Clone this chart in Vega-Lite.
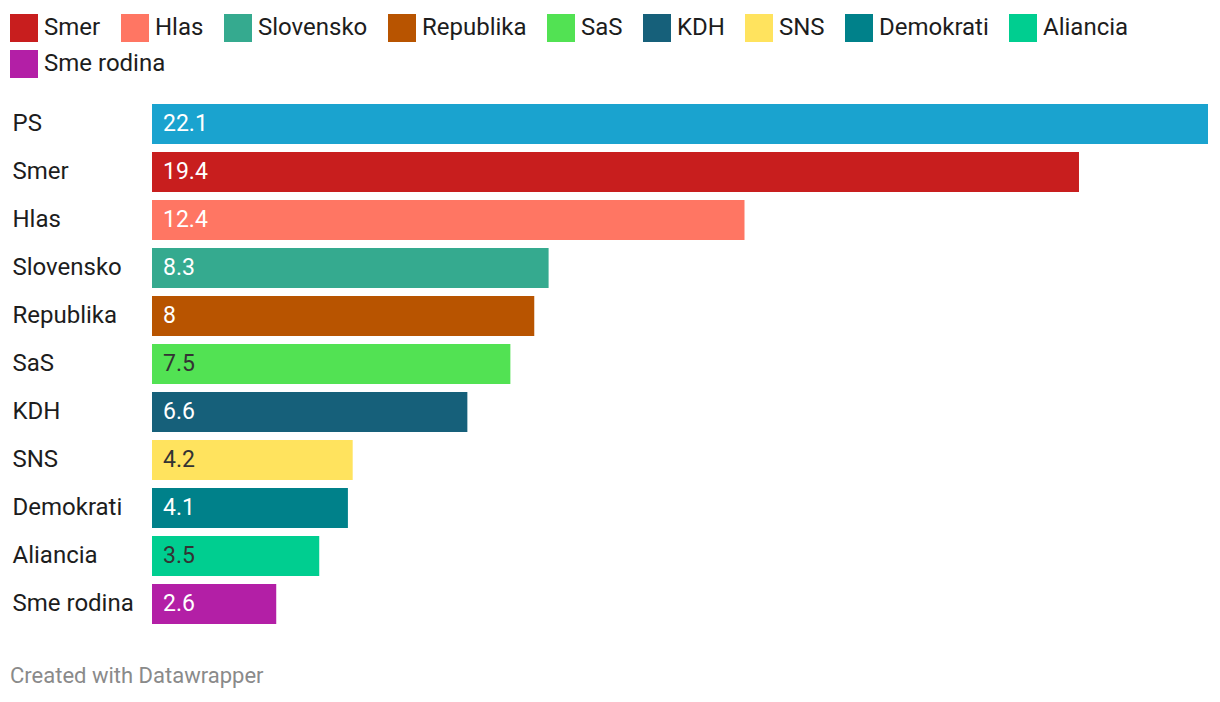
{
  "$schema": "https://vega.github.io/schema/vega-lite/v6.json",
  "width": 1056,
  "height": 520,
  "autosize": {"type": "none"},
  "padding": {"left": 152, "top": 104, "right": 12, "bottom": 78},
  "background": "#ffffff",
  "config": {
    "view": {"stroke": null},
    "font": "Roboto"
  },
  "title": {
    "text": "Created with Datawrapper",
    "orient": "bottom",
    "anchor": "start",
    "frame": "group",
    "font": "Roboto",
    "fontSize": 22,
    "fontWeight": "normal",
    "color": "#8a8a8a",
    "dx": -142,
    "offset": 42
  },
  "data": {
    "values": [
      {"party": "PS", "value": 22.1},
      {"party": "Smer", "value": 19.4},
      {"party": "Hlas", "value": 12.4},
      {"party": "Slovensko", "value": 8.3},
      {"party": "Republika", "value": 8},
      {"party": "SaS", "value": 7.5},
      {"party": "KDH", "value": 6.6},
      {"party": "SNS", "value": 4.2},
      {"party": "Demokrati", "value": 4.1},
      {"party": "Aliancia", "value": 3.5},
      {"party": "Sme rodina", "value": 2.6}
    ]
  },
  "encoding": {
    "y": {
      "field": "party",
      "type": "nominal",
      "sort": null,
      "scale": {"paddingInner": 0.16667, "paddingOuter": 0},
      "axis": {
        "title": null,
        "domain": false,
        "ticks": false,
        "tickSize": 0,
        "labelAlign": "left",
        "labelPadding": 140,
        "labelFontSize": 24,
        "labelFont": "Roboto",
        "labelColor": "#1d1d1d",
        "labelLimit": 200
      }
    }
  },
  "layer": [
    {
      "mark": {"type": "bar", "cornerRadius": 0},
      "encoding": {
        "x": {
          "field": "value",
          "type": "quantitative",
          "scale": {"domain": [0, 22.1], "nice": false, "zero": true},
          "axis": null
        },
        "fill": {
          "field": "party",
          "type": "nominal",
          "scale": {
            "domain": ["PS", "Smer", "Hlas", "Slovensko", "Republika", "SaS", "KDH", "SNS", "Demokrati", "Aliancia", "Sme rodina"],
            "range": ["#1aa3cf", "#c81e1e", "#ff7663", "#35aa8f", "#b85400", "#52e253", "#16607a", "#ffe35e", "#00818a", "#00ce90", "#b31fa6"]
          },
          "legend": {
            "title": null,
            "orient": "none",
            "direction": "horizontal",
            "legendX": -142,
            "legendY": -90,
            "padding": 0,
            "values": ["Smer", "Hlas", "Slovensko", "Republika", "SaS", "KDH", "SNS", "Demokrati", "Aliancia"],
            "symbolType": "square",
            "symbolSize": 784,
            "symbolStrokeWidth": 0,
            "symbolOpacity": 1,
            "labelFont": "Roboto",
            "labelFontSize": 24,
            "labelColor": "#1d1d1d",
            "labelOffset": 6,
            "labelLimit": 300,
            "columnPadding": 20
          }
        }
      }
    },
    {
      "mark": {"type": "text", "align": "left", "baseline": "middle", "dx": 11, "font": "Roboto", "fontSize": 23, "strokeWidth": 0},
      "encoding": {
        "x": {"datum": 0, "type": "quantitative"},
        "text": {"field": "value", "type": "quantitative"},
        "color": {
          "condition": {"test": "indexof(['SaS','SNS','Aliancia'], datum.party) >= 0", "value": "#333333"},
          "value": "#ffffff"
        },
        "stroke": {
          "field": "party",
          "type": "nominal",
          "scale": {
            "domain": ["Sme rodina", "PS", "Smer", "Hlas", "Slovensko", "Republika", "SaS", "KDH", "SNS", "Demokrati", "Aliancia"],
            "range": ["#b31fa6", "#1aa3cf", "#c81e1e", "#ff7663", "#35aa8f", "#b85400", "#52e253", "#16607a", "#ffe35e", "#00818a", "#00ce90"]
          },
          "legend": {
            "title": null,
            "orient": "none",
            "direction": "horizontal",
            "legendX": -142,
            "legendY": -54,
            "padding": 0,
            "values": ["Sme rodina"],
            "symbolType": "square",
            "symbolSize": 196,
            "symbolStrokeWidth": 14,
            "symbolOpacity": 1,
            "labelFont": "Roboto",
            "labelFontSize": 24,
            "labelColor": "#1d1d1d",
            "labelOffset": 6,
            "labelLimit": 300
          }
        }
      }
    }
  ]
}
